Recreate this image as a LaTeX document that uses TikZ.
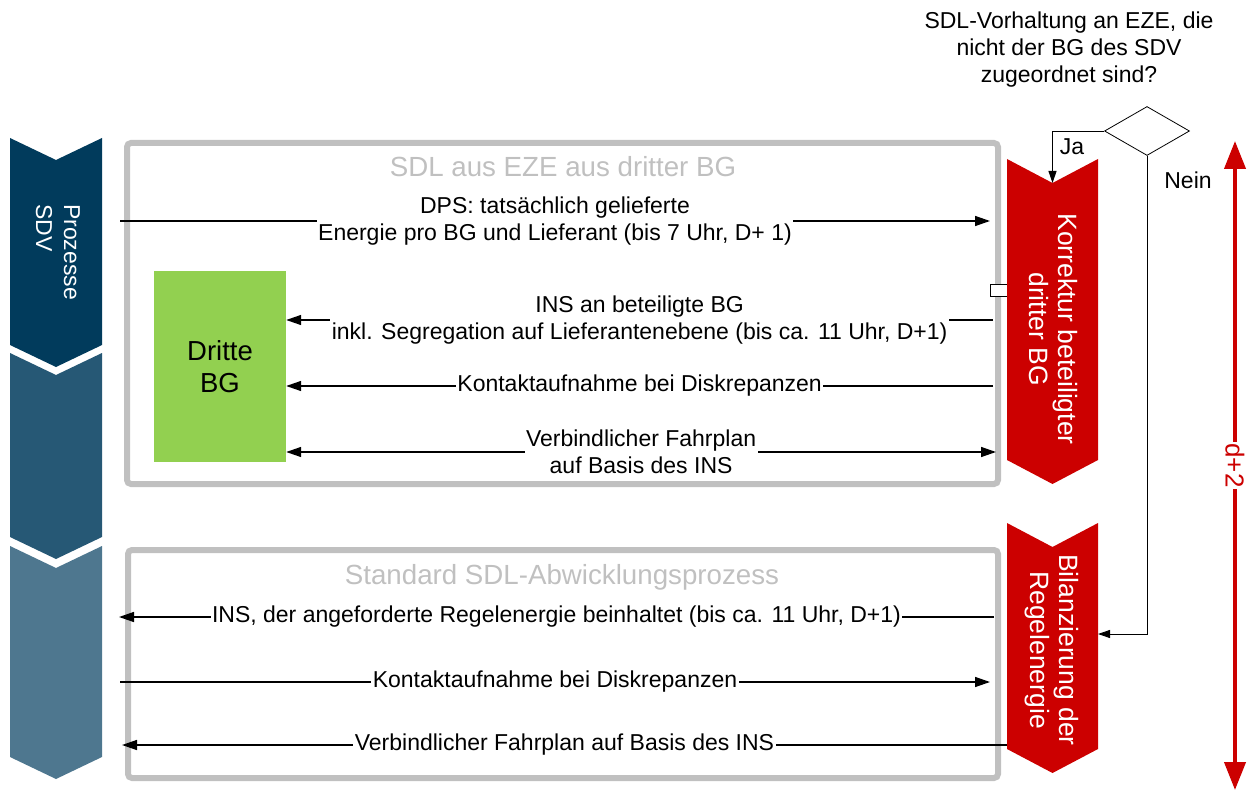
\documentclass[tikz,border=0pt]{standalone}
\usepackage{fontspec}
\setmainfont{Liberation Sans}
\usetikzlibrary{arrows.meta,shapes.geometric}
\definecolor{navyA}{RGB}{1,59,92}
\definecolor{navyB}{RGB}{38,88,117}
\definecolor{navyC}{RGB}{78,119,143}
\definecolor{redC}{RGB}{204,0,0}
\definecolor{grayBox}{RGB}{192,192,192}
\definecolor{greenBG}{RGB}{146,208,80}
\newcommand{\drawchev}[6]{\fill[#1] (#2,#4) -- ({(#2+#3)/2},{#4+#6}) -- (#3,#4) -- (#3,#5) -- ({(#2+#3)/2},{#5+#6}) -- (#2,#5) -- cycle;}
\tikzset{
  fsmall/.style={font=\fontsize{23}{27.5}\selectfont},
  ftitle/.style={font=\fontsize{27.7}{32}\selectfont, text=grayBox, inner sep=0pt},
  msg/.style={line width=1.4pt, -{Triangle[length=15pt,width=10pt]}},
  msgboth/.style={line width=1.4pt, {Triangle[length=15pt,width=10pt]}-{Triangle[length=15pt,width=10pt]}},
  msglbl/.style={fsmall, fill=white, inner sep=1.5pt, align=center},
  frame/.style={draw=grayBox, line width=6pt, rounded corners=4pt},
  flow/.style={line width=0.9pt, -{Triangle[length=12pt,width=8pt]}},
  chevtext/.style={text=white, rotate=-90, inner sep=0pt},
  redtext/.style={chevtext, align=center, font=\fontsize{26.5}{29}\selectfont},
}
\begin{document}
\begin{tikzpicture}[x=1pt,y=-1pt]
\useasboundingbox (0,0) rectangle (1260,791);

% frames
\draw[frame] (127,143) rectangle (998,484);
\draw[frame] (128,550) rectangle (998,778);
\node[ftitle, anchor=base] (t1) at (563,177) {SDL aus EZE aus dritter BG};
\node[ftitle, anchor=base] (t2) at (562,584) {Standard SDL-Abwicklungsprozess};

% left process chevrons
\drawchev{navyA}{10}{102}{138}{345}{22}
\drawchev{navyB}{10}{102}{353}{537}{22}
\drawchev{navyC}{10}{102}{546}{757}{22}
\node[chevtext, align=left, font=\fontsize{23}{28}\selectfont] (proz) at (58,252) {Prozesse\\SDV};

% small port
\node[draw, fill=white, line width=0.8pt, minimum width=17pt, minimum height=12pt, inner sep=0pt] (port) at (998.5,290) {};

% red chevrons
\drawchev{redC}{1007}{1098}{159}{460}{24}
\drawchev{redC}{1007}{1098}{523}{749}{24}
\node[redtext] (k1) at (1053,329) {Korrektur beteiligter\\dritter BG};
\node[redtext] (k2) at (1052,650) {Bilanzierung der\\Regelenergie};
\coordinate (k1notch) at (1052.5,183);
\coordinate (k2east) at (1098,634);

% green box
\node[fill=greenBG, minimum width=132pt, minimum height=191pt, inner sep=0pt,
      align=center, font=\fontsize{27.5}{32}\selectfont] (green) at (220,366.5) {Dritte\\BG};

% coordinates of message ends
\coordinate (L1) at (120,221);  \coordinate (R1) at (990,221);
\coordinate (R2) at (993,320);
\coordinate (R3) at (993,386);
\coordinate (R4) at (996,452);
\coordinate (R5) at (994,617);  \coordinate (L5) at (119,617);
\coordinate (L6) at (120,682);  \coordinate (R6) at (990,682);
\coordinate (R7) at (1007,745); \coordinate (L7) at (122,745);

% top box messages
\draw[msg] (L1) -- (R1) node[midway, msglbl] {DPS: tatsächlich gelieferte\\Energie pro BG und Lieferant (bis 7 Uhr, D+ 1)};
\draw[msg] (R2) -- (green.east |- R2) node[midway, msglbl] {INS an beteiligte BG\\inkl. Segregation auf Lieferantenebene (bis ca. 11 Uhr, D+1)};
\draw[msg] (R3) -- (green.east |- R3) node[midway, msglbl] {Kontaktaufnahme bei Diskrepanzen};
\draw[msgboth] (green.east |- R4) -- (R4) node[midway, msglbl] {Verbindlicher Fahrplan\\auf Basis des INS};

% lower box messages
\draw[msg] (R5) -- (L5) node[midway, msglbl] {INS, der angeforderte Regelenergie beinhaltet (bis ca. 11 Uhr, D+1)};
\draw[msg] (L6) -- (R6) node[midway, msglbl] {Kontaktaufnahme bei Diskrepanzen};
\draw[msg] (R7) -- (L7) node[midway, msglbl] {Verbindlicher Fahrplan auf Basis des INS};

% decision
\node[fsmall, align=center, font=\fontsize{23}{27}\selectfont] (q) at (1069,50) {SDL-Vorhaltung an EZE, die\\nicht der BG des SDV\\zugeordnet sind?};
\node[diamond, draw, line width=0.8pt, minimum width=85pt, minimum height=49pt, inner sep=0pt] (dec) at (1147,131) {};
\draw[flow] (dec.west) -| (k1notch);
\draw[flow] (dec.south) |- (k2east);
\node[fsmall, inner sep=0pt] (ja) at (1072,147) {Ja};
\node[fsmall, inner sep=0pt] (nein) at (1188,180) {Nein};

% d+2 arrow
\coordinate (dtop) at (1235,141);
\coordinate (dbot) at (1235,790);
\draw[line width=4pt, redC, {Triangle[length=28pt,width=21pt]}-{Triangle[length=28pt,width=21pt]}] (dtop) -- (dbot)
  node[midway, fill=white, text=redC, rotate=-90, inner sep=1pt, font=\fontsize{26}{30}\selectfont] (d2) {d+2};
\end{tikzpicture}
\end{document}
